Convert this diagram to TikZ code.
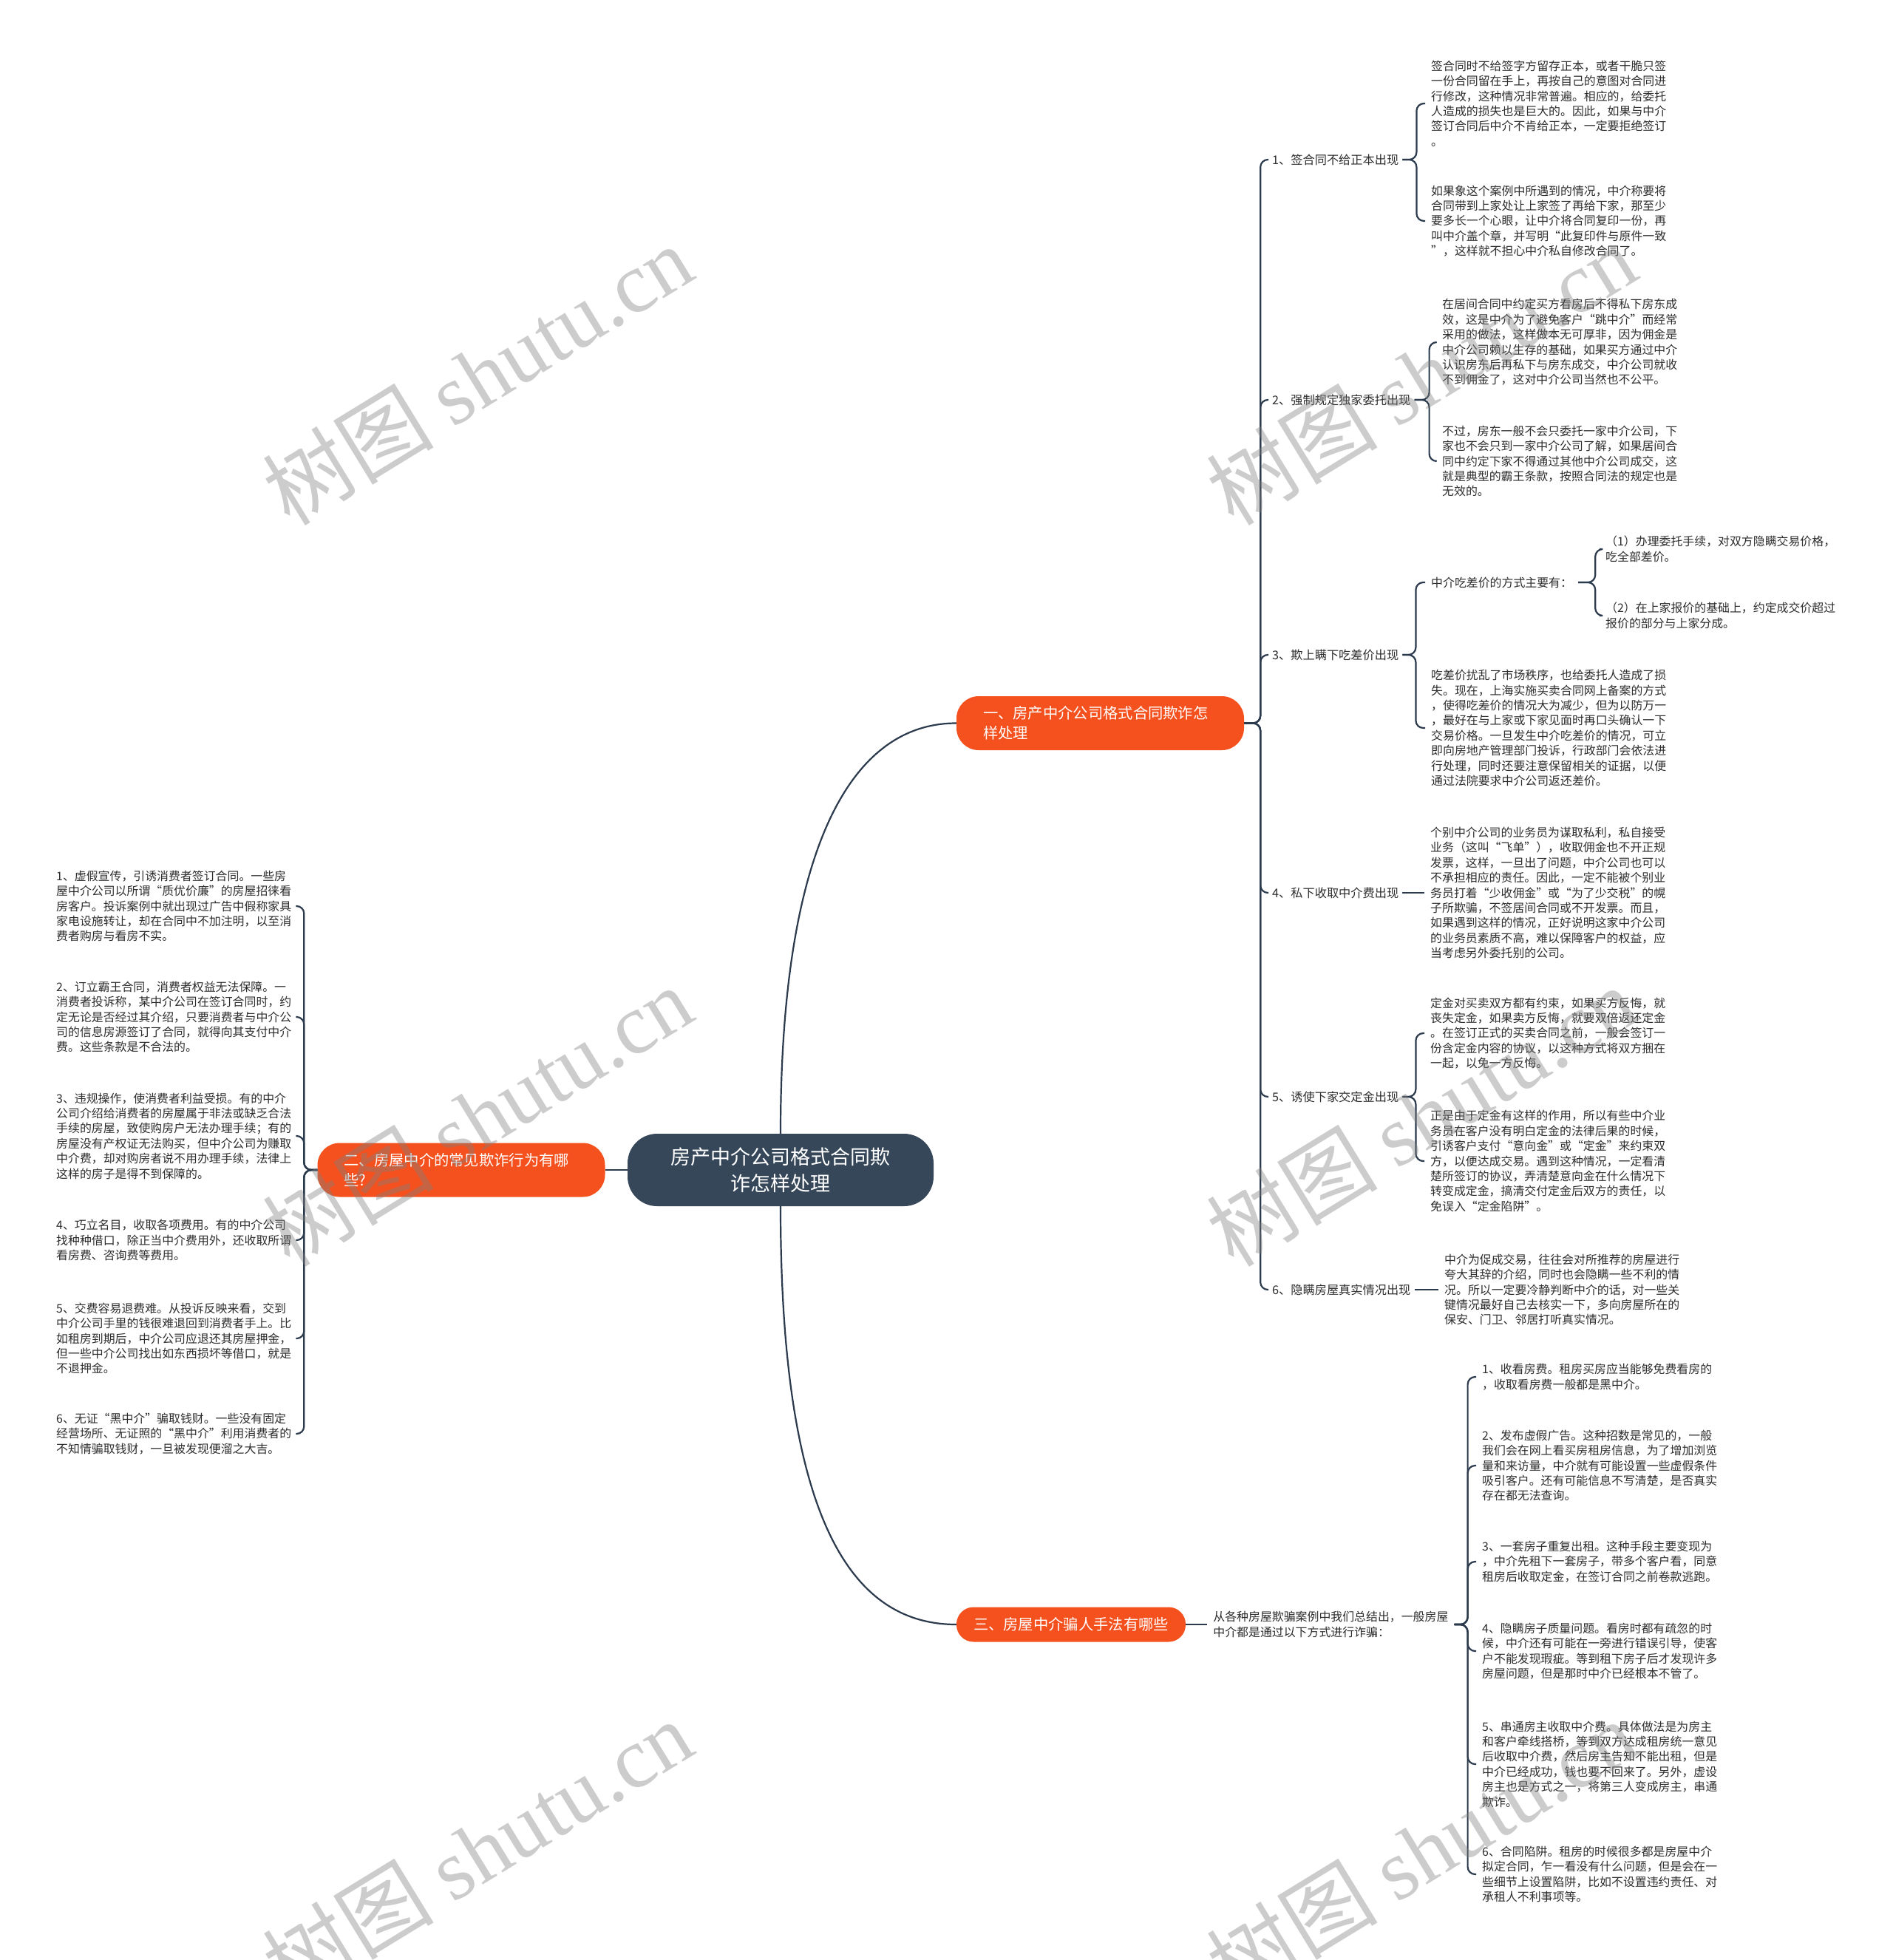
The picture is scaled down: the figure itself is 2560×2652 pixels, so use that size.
\documentclass[tikz,border=0pt]{standalone}
\usepackage{fontspec}
\setmainfont{Noto Sans CJK SC}
\newfontfamily\wmfont{Liberation Serif}
\usetikzlibrary{positioning, calc}

\definecolor{rootfill}{HTML}{36475A}
\definecolor{branchred}{HTML}{F4511E}
\definecolor{linkcol}{HTML}{2B3A4C}
\definecolor{textcol}{HTML}{2D2D2D}

\begin{document}
\begin{tikzpicture}[x=1pt, y=-1pt,
    root/.style={fill=rootfill, text=white, rounded corners=40pt, minimum width=414pt, minimum height=98pt, align=center, font=\fontsize{27}{36}\selectfont},
    branch/.style={fill=branchred, text=white, rounded corners=30pt, align=left, inner xsep=36pt, inner ysep=4pt, minimum height=73pt, text width=317pt, font=\fontsize{20.3}{27}\selectfont},
    topic/.style={anchor=west, inner xsep=5pt, text=textcol, font=\fontsize{16.2}{21}\selectfont},
    detail/.style={anchor=west, align=left, inner xsep=8pt, inner ysep=2pt, text=textcol, font=\fontsize{15.9}{20.4}\selectfont},
    leftitem/.style={detail, text width=316pt},
    link/.style={draw=linkcol, line width=2.2pt, rounded corners=10pt},
    watermark/.style={rotate=31.5, text=gray, opacity=0.4, font=\fontsize{116}{120}\selectfont}
]
\path[use as bounding box, fill=white] (0,0) rectangle (2560,2652);

% Hauptknoten
\node[root] (root) at (1056,1583) {房产中介公司格式合同欺\\诈怎样处理};
\node[branch] (br1) at (1488.5,978.5) {一、房产中介公司格式合同欺诈怎\\样处理};
\node[branch] (br2) at (624,1583) {二、房屋中介的常见欺诈行为有哪\\些?};
\node[branch, text width=264pt, inner xsep=23pt, align=center, minimum height=47pt, rounded corners=23pt] (br3) at (1449,2198) {三、房屋中介骗人手法有哪些};

% Zweig eins
\node[topic] (l1) at (1716,216) {1、签合同不给正本出现};
\node[topic] (l2) at (1716,541) {2、强制规定独家委托出现};
\node[topic] (l3) at (1716,886) {3、欺上瞒下吃差价出现};
\node[topic] (l4) at (1716,1208) {4、私下收取中介费出现};
\node[topic] (l5) at (1716,1484) {5、诱使下家交定金出现};
\node[topic] (l6) at (1716,1745) {6、隐瞒房屋真实情况出现};

\node[detail] (t11) at (1928,140) {签合同时不给签字方留存正本，或者干脆只签\\一份合同留在手上，再按自己的意图对合同进\\行修改，这种情况非常普遍。相应的，给委托\\人造成的损失也是巨大的。因此，如果与中介\\签订合同后中介不肯给正本，一定要拒绝签订\\。};
\node[detail] (t12) at (1928,299) {如果象这个案例中所遇到的情况，中介称要将\\合同带到上家处让上家签了再给下家，那至少\\要多长一个心眼，让中介将合同复印一份，再\\叫中介盖个章，并写明“此复印件与原件一致\\”，这样就不担心中介私自修改合同了。};
\node[detail] (t21) at (1943,463) {在居间合同中约定买方看房后不得私下房东成\\效，这是中介为了避免客户“跳中介”而经常\\采用的做法，这样做本无可厚非，因为佣金是\\中介公司赖以生存的基础，如果买方通过中介\\认识房东后再私下与房东成交，中介公司就收\\不到佣金了，这对中介公司当然也不公平。};
\node[detail] (t22) at (1943,624) {不过，房东一般不会只委托一家中介公司，下\\家也不会只到一家中介公司了解，如果居间合\\同中约定下家不得通过其他中介公司成交，这\\就是典型的霸王条款，按照合同法的规定也是\\无效的。};
\node[detail] (t3a) at (1928,788) {中介吃差价的方式主要有：};
\node[detail] (t3a1) at (2164,743) {（1）办理委托手续，对双方隐瞒交易价格，\\吃全部差价。};
\node[detail] (t3a2) at (2164,833) {（2）在上家报价的基础上，约定成交价超过\\报价的部分与上家分成。};
\node[detail] (t3b) at (1928,985) {吃差价扰乱了市场秩序，也给委托人造成了损\\失。现在，上海实施买卖合同网上备案的方式\\，使得吃差价的情况大为减少，但为以防万一\\，最好在与上家或下家见面时再口头确认一下\\交易价格。一旦发生中介吃差价的情况，可立\\即向房地产管理部门投诉，行政部门会依法进\\行处理，同时还要注意保留相关的证据，以便\\通过法院要求中介公司返还差价。};
\node[detail] (t4) at (1927,1208) {个别中介公司的业务员为谋取私利，私自接受\\业务（这叫“飞单”），收取佣金也不开正规\\发票，这样，一旦出了问题，中介公司也可以\\不承担相应的责任。因此，一定不能被个别业\\务员打着“少收佣金”或“为了少交税”的幌\\子所欺骗，不签居间合同或不开发票。而且，\\如果遇到这样的情况，正好说明这家中介公司\\的业务员素质不高，难以保障客户的权益，应\\当考虑另外委托别的公司。};
\node[detail] (t51) at (1927,1398) {定金对买卖双方都有约束，如果买方反悔，就\\丧失定金，如果卖方反悔，就要双倍返还定金\\。在签订正式的买卖合同之前，一般会签订一\\份含定金内容的协议，以这种方式将双方捆在\\一起，以免一方反悔。};
\node[detail] (t52) at (1927,1571) {正是由于定金有这样的作用，所以有些中介业\\务员在客户没有明白定金的法律后果的时候，\\引诱客户支付“意向金”或“定金”来约束双\\方，以便达成交易。遇到这种情况，一定看清\\楚所签订的协议，弄清楚意向金在什么情况下\\转变成定金，搞清交付定金后双方的责任，以\\免误入“定金陷阱”。};
\node[detail] (t6) at (1946,1745) {中介为促成交易，往往会对所推荐的房屋进行\\夸大其辞的介绍，同时也会隐瞒一些不利的情\\况。所以一定要冷静判断中介的话，对一些关\\键情况最好自己去核实一下，多向房屋所在的\\保安、门卫、邻居打听真实情况。};

% Zweig zwei
\node[leftitem] (n1) at (68,1226) {1、虚假宣传，引诱消费者签订合同。一些房\\屋中介公司以所谓“质优价廉”的房屋招徕看\\房客户。投诉案例中就出现过广告中假称家具\\家电设施转让，却在合同中不加注明，以至消\\费者购房与看房不实。};
\node[leftitem] (n2) at (68,1376) {2、订立霸王合同，消费者权益无法保障。一\\消费者投诉称，某中介公司在签订合同时，约\\定无论是否经过其介绍，只要消费者与中介公\\司的信息房源签订了合同，就得向其支付中介\\费。这些条款是不合法的。};
\node[leftitem] (n3) at (68,1537) {3、违规操作，使消费者利益受损。有的中介\\公司介绍给消费者的房屋属于非法或缺乏合法\\手续的房屋，致使购房户无法办理手续；有的\\房屋没有产权证无法购买，但中介公司为赚取\\中介费，却对购房者说不用办理手续，法律上\\这样的房子是得不到保障的。};
\node[leftitem] (n4) at (68,1678) {4、巧立名目，收取各项费用。有的中介公司\\找种种借口，除正当中介费用外，还收取所谓\\看房费、咨询费等费用。};
\node[leftitem] (n5) at (68,1811) {5、交费容易退费难。从投诉反映来看，交到\\中介公司手里的钱很难退回到消费者手上。比\\如租房到期后，中介公司应退还其房屋押金，\\但一些中介公司找出如东西损坏等借口，就是\\不退押金。};
\node[leftitem] (n6) at (68,1940) {6、无证“黑中介”骗取钱财。一些没有固定\\经营场所、无证照的“黑中介”利用消费者的\\不知情骗取钱财，一旦被发现便溜之大吉。};

% Zweig drei
\node[detail, right=29pt of br3] (s3) {从各种房屋欺骗案例中我们总结出，一般房屋\\中介都是通过以下方式进行诈骗：};
\node[detail] (m1) at (1997,1863) {1、收看房费。租房买房应当能够免费看房的\\，收取看房费一般都是黑中介。};
\node[detail] (m2) at (1997,1983) {2、发布虚假广告。这种招数是常见的，一般\\我们会在网上看买房租房信息，为了增加浏览\\量和来访量，中介就有可能设置一些虚假条件\\吸引客户。还有可能信息不写清楚，是否真实\\存在都无法查询。};
\node[detail] (m3) at (1997,2113) {3、一套房子重复出租。这种手段主要变现为\\，中介先租下一套房子，带多个客户看，同意\\租房后收取定金，在签订合同之前卷款逃跑。};
\node[detail] (m4) at (1997,2234) {4、隐瞒房子质量问题。看房时都有疏忽的时\\候，中介还有可能在一旁进行错误引导，使客\\户不能发现瑕疵。等到租下房子后才发现许多\\房屋问题，但是那时中介已经根本不管了。};
\node[detail] (m5) at (1997,2387) {5、串通房主收取中介费。具体做法是为房主\\和客户牵线搭桥，等到双方达成租房统一意见\\后收取中介费，然后房主告知不能出租，但是\\中介已经成功，钱也要不回来了。另外，虚设\\房主也是方式之一，将第三人变成房主，串通\\欺诈。};
\node[detail] (m6) at (1997,2536) {6、合同陷阱。租房的时候很多都是房屋中介\\拟定合同，乍一看没有什么问题，但是会在一\\些细节上设置陷阱，比如不设置违约责任、对\\承租人不利事项等。};

% Kanten
\draw[link] (root.north) .. controls +(0,-384) and +(-144,0) .. (br1.west);
\draw[link] (root.south) .. controls +(0,420) and +(-144,0) .. (br3.west);
\draw[link] (root.west) -- (br2.east);

\draw[link] (br1.east) -- ++(22,0) |- (l1.west);
\draw[link] (br1.east) -- ++(22,0) |- (l2.west);
\draw[link] (br1.east) -- ++(22,0) |- (l3.west);
\draw[link] (br1.east) -- ++(22,0) |- (l4.west);
\draw[link] (br1.east) -- ++(22,0) |- (l5.west);
\draw[link] (br1.east) -- ++(22,0) |- (l6.west);

\draw[link] (l1.east) -- ++(19,0) |- (t11.west);
\draw[link] (l1.east) -- ++(19,0) |- (t12.west);
\draw[link] (l2.east) -- ++(20,0) |- (t21.west);
\draw[link] (l2.east) -- ++(20,0) |- (t22.west);
\draw[link] (l3.east) -- ++(18,0) |- (t3a.west);
\draw[link] (l3.east) -- ++(18,0) |- (t3b.west);
\draw[link] (t3a.east) -- ++(23,0) |- (t3a1.west);
\draw[link] (t3a.east) -- ++(23,0) |- (t3a2.west);
\draw[link] (l4.east) -- (t4.west);
\draw[link] (l5.east) -- ++(18,0) |- (t51.west);
\draw[link] (l5.east) -- ++(18,0) |- (t52.west);
\draw[link] (l6.east) -- (t6.west);

\draw[link] (br2.west) -- ++(-18,0) |- (n1.east);
\draw[link] (br2.west) -- ++(-18,0) |- (n2.east);
\draw[link] (br2.west) -- ++(-18,0) |- (n3.east);
\draw[link] (br2.west) -- ++(-18,0) |- (n4.east);
\draw[link] (br2.west) -- ++(-18,0) |- (n5.east);
\draw[link] (br2.west) -- ++(-18,0) |- (n6.east);

\draw[link] (br3.east) -- (s3.west);
\draw[link] (s3.east) -- ++(18,0) |- (m1.west);
\draw[link] (s3.east) -- ++(18,0) |- (m2.west);
\draw[link] (s3.east) -- ++(18,0) |- (m3.west);
\draw[link] (s3.east) -- ++(18,0) |- (m4.west);
\draw[link] (s3.east) -- ++(18,0) |- (m5.west);
\draw[link] (s3.east) -- ++(18,0) |- (m6.west);

% Wasserzeichen
\node[watermark] (wm1) at (646,507) {树图 {\wmfont shutu.cn}};
\node[watermark] (wm2) at (646,1510) {树图 {\wmfont shutu.cn}};
\node[watermark] (wm3) at (646,2503) {树图 {\wmfont shutu.cn}};
\node[watermark] (wm4) at (1923,507) {树图 {\wmfont shutu.cn}};
\node[watermark] (wm5) at (1923,1510) {树图 {\wmfont shutu.cn}};
\node[watermark] (wm6) at (1923,2503) {树图 {\wmfont shutu.cn}};

\end{tikzpicture}
\end{document}
